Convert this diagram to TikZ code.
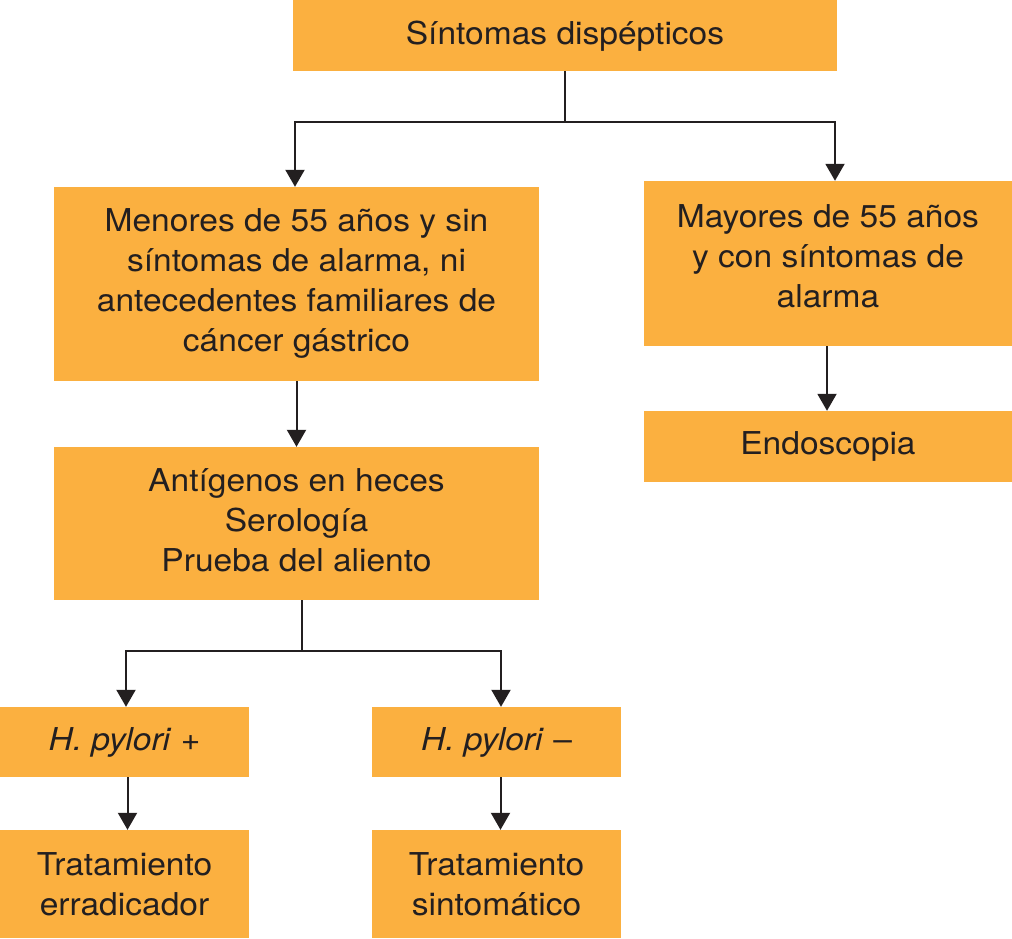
\documentclass[tikz,border=0pt]{standalone}
\usepackage{fontspec}
\setmainfont{TeX Gyre Heros}[FakeStretch=1.065]
\usetikzlibrary{arrows.meta,calc}
\definecolor{boxfill}{HTML}{FBB040}
\definecolor{ink}{HTML}{231F20}
\begin{document}
\begin{tikzpicture}[x=1pt,y=-1pt,
  box/.style={fill=boxfill,draw=none,inner sep=0pt,align=center,text=ink,
    font=\fontsize{31.5}{40}\selectfont},
  conn/.style={draw=ink,line width=2pt},
  arr/.style={conn,-{Triangle[width=19pt,length=17pt]}}]
\useasboundingbox (0,0) rectangle (1012,938);
% boxes
\node[box,minimum width=544pt,minimum height=71pt] (top) at (565,35.5) {};
\node[box,text=ink] (toptxt) at (565,36.5) {Síntomas dispépticos};
\node[box,minimum width=485pt,minimum height=194pt] (men) at (296.5,284) {};
\node[box,fill=none] (mentxt) at (296.5,283) {Menores de 55 años y sin\\síntomas de alarma, ni\\antecedentes familiares de\\cáncer gástrico};
\node[box,minimum width=368pt,minimum height=165pt] (may) at (828,263.5) {};
\node[box,fill=none] (maytxt) at (828,256.5) {Mayores de 55 años\\y con síntomas de\\alarma};
\node[box,minimum width=368pt,minimum height=71pt] (endo) at (828,446.5) {Endoscopia};
\node[box,minimum width=485pt,minimum height=153pt] (ant) at (296.5,523.5) {};
\node[box,fill=none] (anttxt) at (296.5,520.5) {Antígenos en heces\\Serología\\Prueba del aliento};
\node[box,minimum width=249pt,minimum height=70pt] (hp) at (124.5,742) {\textit{H. pylori} +};
\node[box,minimum width=249pt,minimum height=70pt] (hm) at (496.5,742) {\textit{H. pylori} –};
\node[box,minimum width=249pt,minimum height=108pt] (te) at (124.5,884) {Tratamiento\\erradicador};
\node[box,minimum width=249pt,minimum height=108pt] (ts) at (496.5,884) {Tratamiento\\sintomático};
% connectors
\coordinate (j1) at ($(top.south)+(0,51)$);
\draw[conn] (top.south) -- (j1);
\draw[arr] (j1) -| ([xshift=-1.5pt]men.north);
\draw[arr] (j1) -| ([xshift=7pt]may.north);
\draw[arr] (men.south) -- (ant.north);
\draw[arr] ([xshift=-1pt]may.south) -- ([xshift=-1pt]endo.north);
\coordinate (j2) at ($(ant.south)+(5.5,51)$);
\draw[conn] ([xshift=5.5pt]ant.south) -- (j2);
\draw[arr] (j2) -| ([xshift=1.5pt]hp.north);
\draw[arr] (j2) -| ([xshift=4.5pt]hm.north);
\draw[arr] ([xshift=3pt]hp.south) -- ([xshift=3pt]te.north);
\draw[arr] ([xshift=4pt]hm.south) -- ([xshift=4pt]ts.north);
\end{tikzpicture}
\end{document}
